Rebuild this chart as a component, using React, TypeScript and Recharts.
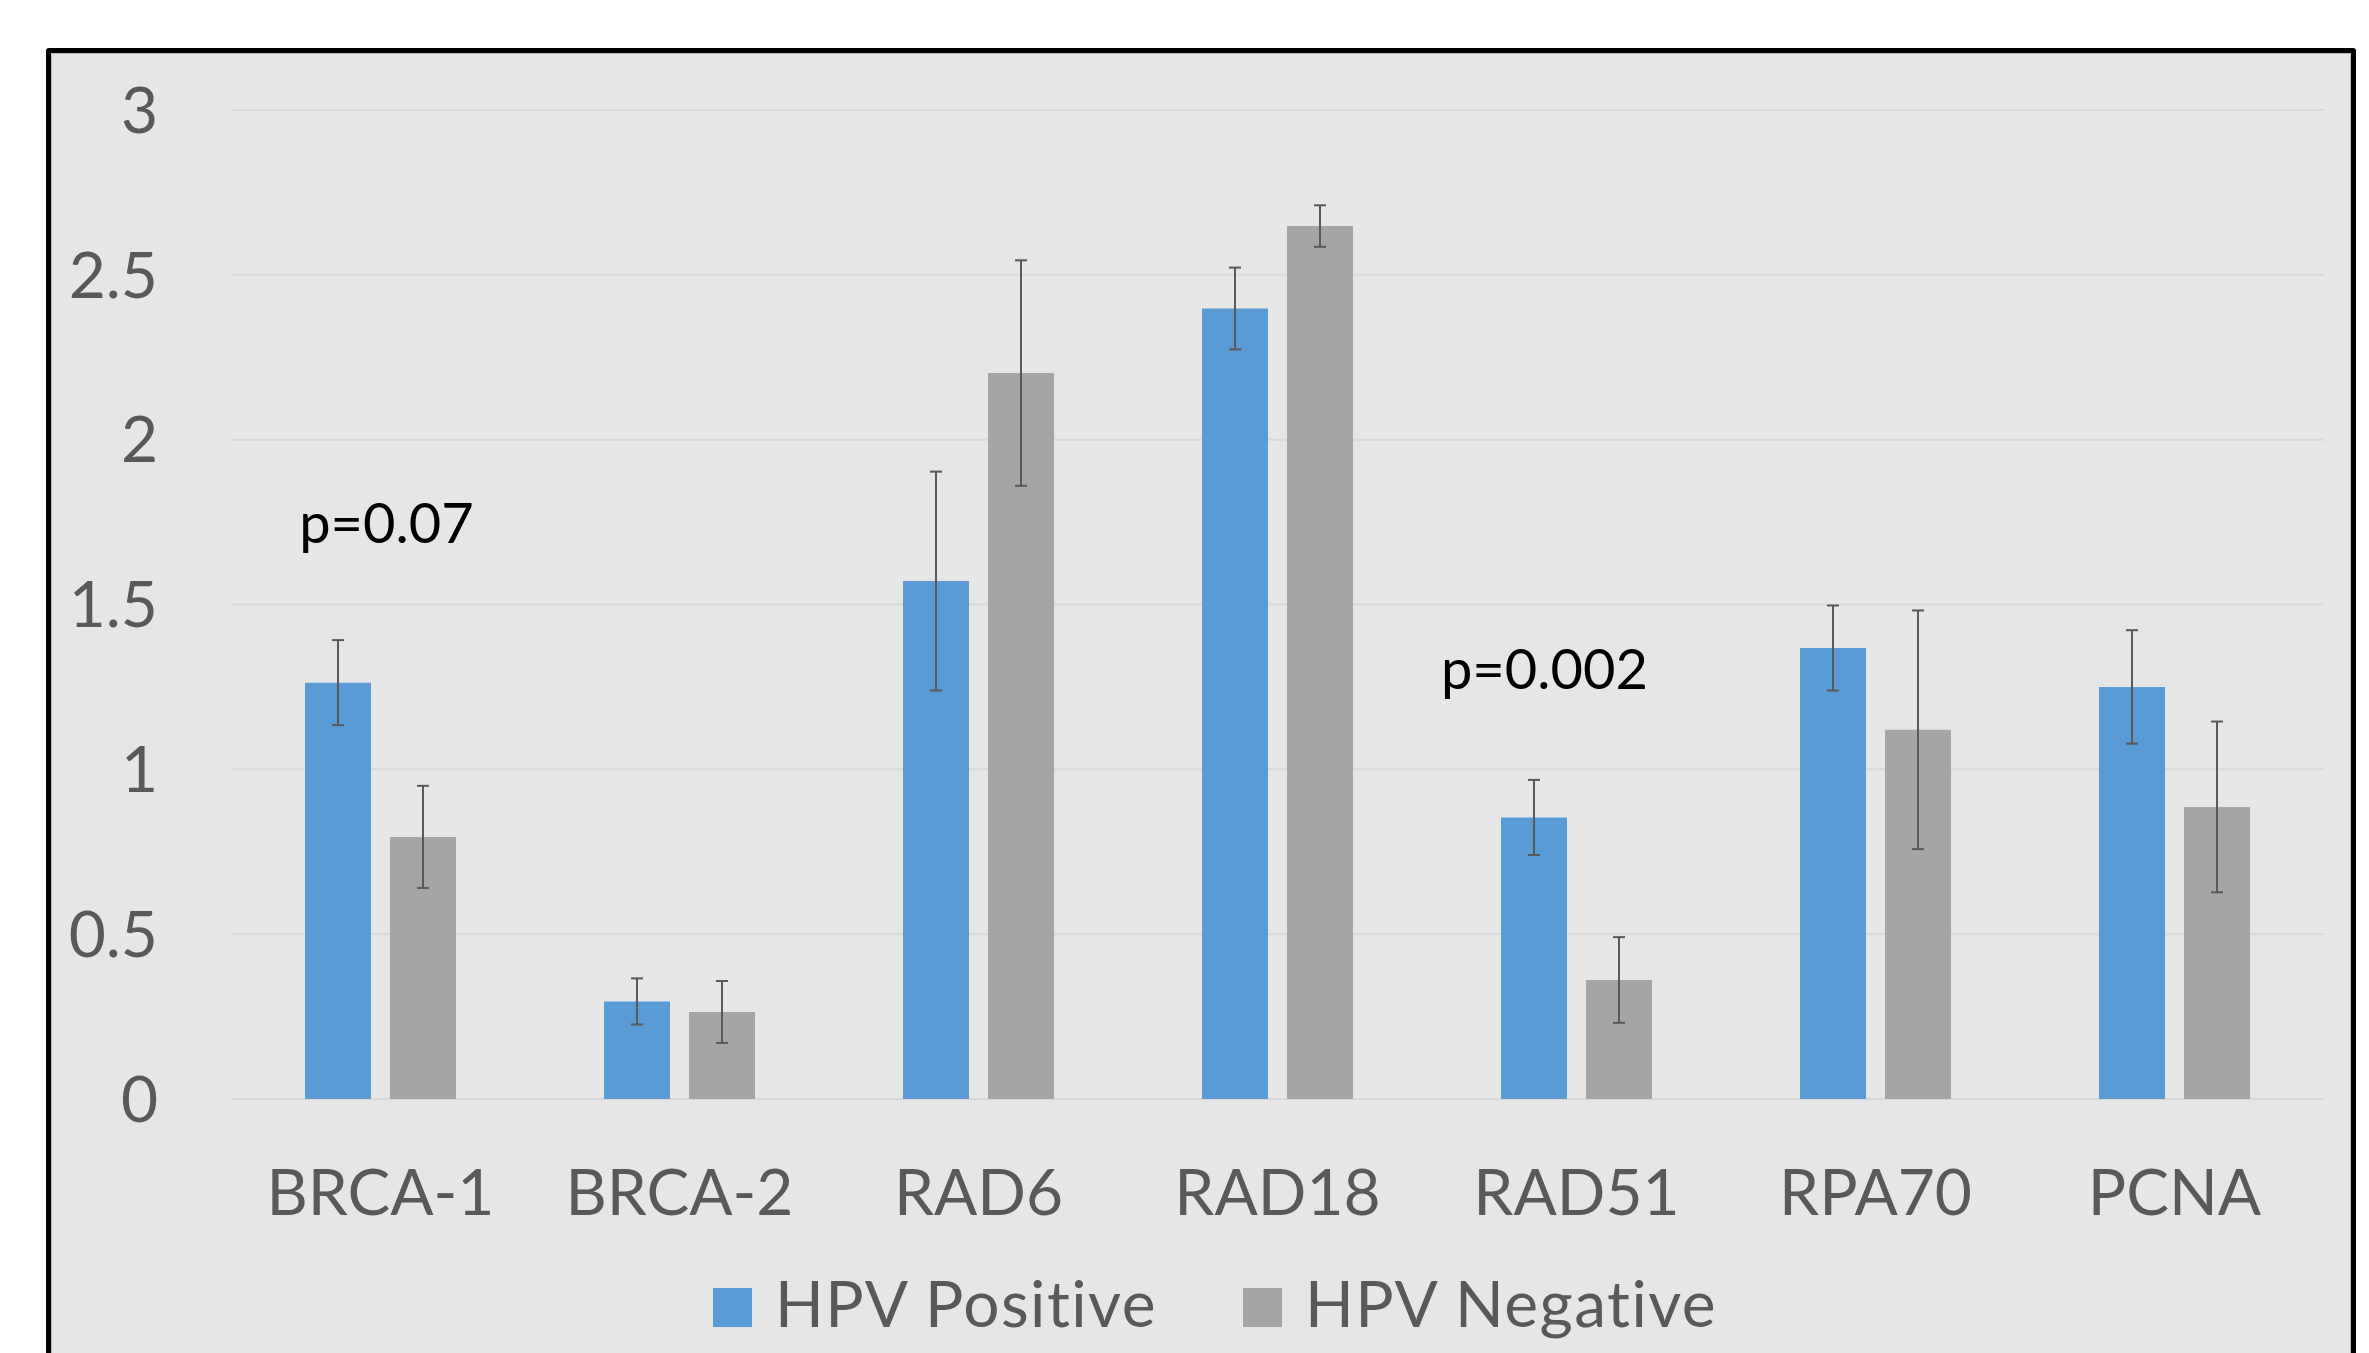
import React from 'react';
import { BarChart, Bar, XAxis, YAxis, CartesianGrid, ErrorBar, Legend, ReferenceDot } from 'recharts';

const categories = ['BRCA-1', 'BRCA-2', 'RAD6', 'RAD18', 'RAD51', 'RPA70', 'PCNA'];
const hpvPositive = [1.263, 0.296, 1.571, 2.398, 0.854, 1.368, 1.25];
const hpvPositiveErr = [0.129, 0.07, 0.332, 0.124, 0.114, 0.129, 0.172];
const hpvNegative = [0.795, 0.264, 2.202, 2.648, 0.361, 1.12, 0.886];
const hpvNegativeErr = [0.155, 0.094, 0.342, 0.063, 0.13, 0.362, 0.259];
const yTicks = [0, 0.5, 1, 1.5, 2, 2.5, 3];
const seriesNames = ['HPV Positive', 'HPV Negative'];
const seriesColors = ['#5B9BD5', '#A5A5A5'];
const annotationCategories = ['BRCA-1', 'RAD51'];
const annotationValues = [1.686, 1.244];
const annotationTexts = ['p=0.07', 'p=0.002'];
const annotationShift = [6, -32];

const data = categories.map((c, i) => ({
  category: c,
  pos: hpvPositive[i],
  posErr: hpvPositiveErr[i],
  neg: hpvNegative[i],
  negErr: hpvNegativeErr[i],
}));

const FONT = 'Lato, Carlito, "Open Sans", sans-serif';
const FS = 64;

const PLabel = (props: any) => {
  const vb = props.viewBox || {};
  const x = (vb.x ?? 0) + (vb.width ?? 0) / 2 + (props.shift || 0);
  const y = (vb.y ?? 0) + (vb.height ?? 0) / 2;
  return (
    <text x={x} y={y} textAnchor="middle" fill="#000" fontFamily={FONT} fontSize={56}>
      {props.text}
    </text>
  );
};

const renderLegend = () => (
  <div style={{ display: 'flex', alignItems: 'flex-start', fontFamily: FONT, fontSize: FS, lineHeight: `${FS}px`, color: '#595959', whiteSpace: 'nowrap' }}>
    {seriesNames.map((n, i) => (
      <div key={n} style={{ display: 'flex', alignItems: 'flex-start', marginRight: i === 0 ? 86 : 0 }}>
        <span style={{ display: 'inline-block', width: 39, height: 39, background: seriesColors[i], marginTop: 17, marginRight: 23 }} />
        <span style={{ letterSpacing: 1.45 }}>{n}</span>
      </div>
    ))}
  </div>
);

export default function App() {
  return (
    <div style={{ position: 'absolute', left: 0, top: 0, width: 2369, height: 1353, overflow: 'hidden', background: '#fff' }}>
      <div
        style={{
          position: 'absolute',
          left: 46,
          top: 48,
          width: 2300,
          height: 1340,
          border: '5px solid #000',
          borderRadius: 3,
          background: '#E6E6E6',
          boxShadow: 'inset 0 0 0 1px #BDBDBD',
        }}
      />
      <div style={{ position: 'absolute', left: 0, top: 0 }}>
        <BarChart
          width={2369}
          height={1353}
          data={data}
          margin={{ top: 110, right: 45, bottom: 0, left: 0 }}
          barSize={66}
          barGap={19}
        >
          <CartesianGrid vertical={false} stroke="#D9D9D9" strokeWidth={2} />
          <XAxis
            dataKey="category"
            height={254}
            axisLine={false}
            tickLine={false}
            tickSize={0}
            tickMargin={71}
            interval={0}
            tick={{ fill: '#595959', fontFamily: FONT, fontSize: FS }}
          />
          <YAxis
            width={231}
            domain={[0, 3]}
            ticks={yTicks}
            interval={0}
            axisLine={false}
            tickLine={false}
            tickSize={0}
            tickMargin={73}
            tick={{ fill: '#595959', fontFamily: FONT, fontSize: FS }}
          />
          <Legend
            layout="horizontal"
            verticalAlign="middle"
            align="center"
            content={renderLegend}
            wrapperStyle={{ left: 713, top: 1271, width: 1300, height: 70 }}
          />
          <Bar dataKey="pos" name={seriesNames[0]} fill={seriesColors[0]} isAnimationActive={false}>
            <ErrorBar dataKey="posErr" width={6} strokeWidth={2} stroke="#595959" direction="y" />
          </Bar>
          <Bar dataKey="neg" name={seriesNames[1]} fill={seriesColors[1]} isAnimationActive={false}>
            <ErrorBar dataKey="negErr" width={6} strokeWidth={2} stroke="#595959" direction="y" />
          </Bar>
          {annotationCategories.map((c, i) => (
            <ReferenceDot
              key={c}
              x={c}
              y={annotationValues[i]}
              r={0}
              fill="none"
              stroke="none"
              label={<PLabel text={annotationTexts[i]} shift={annotationShift[i]} />}
            />
          ))}
        </BarChart>
      </div>
    </div>
  );
}
